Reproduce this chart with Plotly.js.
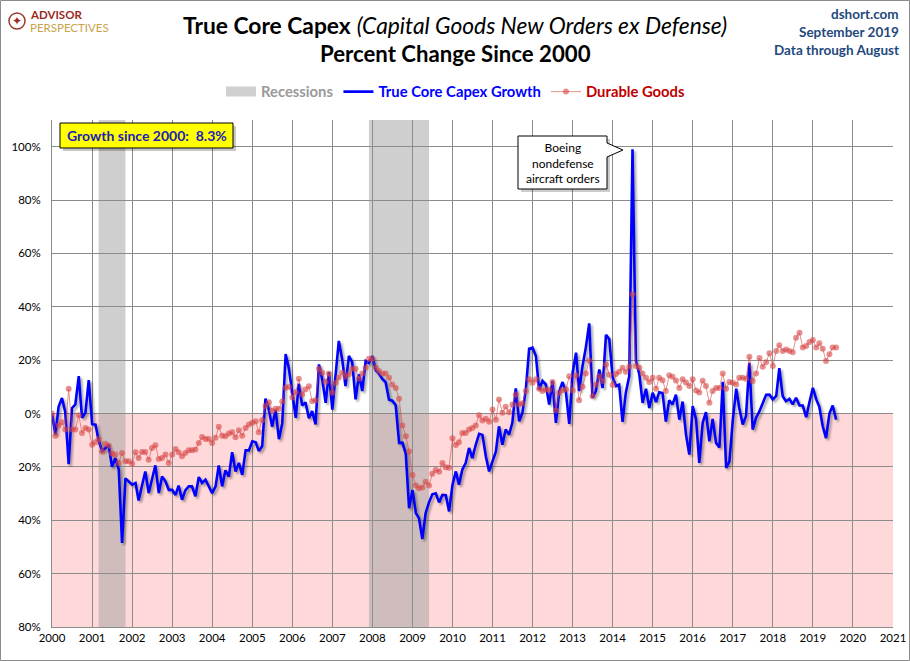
<!DOCTYPE html>
<html><head><meta charset="utf-8">
<script src="https://cdn.plot.ly/plotly-3.0.1.min.js"></script>
<style>html,body{margin:0;padding:0;background:#fff}#chart{width:910px;height:661px}</style>
</head><body><div id="chart"></div>
<script>
const startYear = 2000;
const capexGrowth = [
 0,-8,2.5,5.8,0.5,-19,2,3.4,14,-1.6,0.3,12.5,
 -4,-4.2,-10,-14,-13,-11.8,-20,-16.7,-21,-48.5,-24.3,-25.4,
 -26.7,-26,-32.6,-27,-21.7,-29.8,-24.8,-19.4,-29.8,-23.6,-25.4,-28.6,
 -28.6,-30.5,-27,-32.3,-28.8,-27.3,-27.3,-31,-23.8,-26,-24.8,-27.3,
 -29.8,-27.3,-19.5,-27.3,-21.3,-23.6,-14.5,-21.7,-18.5,-23,-13.8,-13.8,
 -10.4,-10.8,-14,-12.3,5.6,1.5,-5,1.4,-9.6,-3.8,22.3,16.8,
 8,-1.6,11.2,3,4.2,-1.8,0.9,-4.1,18.4,12.8,4,15.5,
 1.5,14.5,27.2,20.3,10.3,21.6,19.3,5.3,14.7,8.4,19.7,19,
 21.5,16.2,15,13,11.8,5.2,4.8,3.1,-11,-10.9,-15.1,-35.5,
 -28.7,-37.3,-39.2,-47,-37.3,-33.3,-30.3,-29.9,-33.3,-30.5,-30.6,-36.7,
 -26.7,-21.7,-26.7,-21,-18.6,-12.9,-16.7,-11.7,-7.6,-8,-16,-21.7,
 -17.9,-14.2,-4.8,-11.7,-6,-7.9,-3.5,9.4,-2.9,0.3,9,24.3,
 24.7,21.5,9,12.2,10.9,3.4,12.2,-3.5,8.4,11.8,7.8,-3.9,
 15.3,22.8,8.4,17.8,24.7,33.8,5.9,8.4,16.5,9.6,29.5,27.8,
 13.5,10.3,10.8,-3.1,7.8,14,99,19.7,14.7,4,9.3,2.1,
 7.8,4.3,8,7.7,-3,5,3.4,7.1,-2.3,4.5,-7.9,-15.4,
 2.8,-2.3,-18.5,-3.5,0.5,-10.4,-2,-11,-12.7,11.9,-20.4,-17.9,
 -2.3,9.3,2.1,-4.1,-1,19,-6,-1.6,0.9,4,7,7.1,
 5.3,6.6,17,6.5,4.6,5.5,3.4,5.9,3,3,-1.4,4.3,
 9.6,5.3,2.5,-4.8,-9.2,0,3,-2.3
];
const durableGoods = [
 0,-8.3,-4.5,-3.3,-6,9.3,-6,-6,-0.6,-7.3,-5.4,-6,
 -11.7,-10.8,-9.5,-14.2,-11.3,-12,-15,-15.4,-18.5,-14.8,-17.9,-17.9,
 -18.8,-14.5,-16.7,-14.4,-14.4,-17.3,-12.9,-11.9,-17,-16.7,-15.4,-18.5,
 -15.4,-13.3,-14.5,-16,-14.8,-13.8,-13.8,-13.5,-11,-8.8,-9.5,-9.5,
 -11,-9.1,-5,-8.3,-8.5,-7.5,-7,-8.9,-6.3,-8.3,-5.4,-4.1,
 -3.5,-2.9,-7,-2.5,2.8,4.2,1,1.8,1.8,4.5,9.7,10,
 6,8,13,7.1,9,10.2,4.6,5,16.8,15.3,11.8,15,
 7.8,11.5,13.5,15.3,13.8,14.7,16.8,16.8,13,15,17.2,20.5,
 20.5,17.2,15.9,15,15,13.4,10.9,9.6,5.5,-4.5,-8.5,-14.2,
 -23,-27,-28,-27.7,-25.6,-27,-22.6,-21.2,-21.8,-18.5,-20.1,-20.3,
 -9.3,-11.8,-10.8,-7.3,-7.3,-6,-5.4,-4.5,-0.6,-2.6,-2,-3.1,
 1.5,-2.3,5.3,0.3,2.5,0.5,3.4,7.1,3.4,3.8,8.4,12.8,
 11.5,12.8,9.3,8.4,9,8.8,11.8,1.1,7.8,8.8,9,14,
 8.6,14.3,5,10,15,19.9,6.5,10.9,14,12.2,18.4,14.5,
 10.7,14.8,15.7,17.2,15.7,17.5,44.7,17.8,17.2,15,13.4,11.8,
 13.4,9.3,13.4,12.5,8.4,14.3,13.8,12.4,9.6,12.8,11.6,10.3,
 12.8,8.6,7.9,12.3,10.3,4,8.4,9.6,9.6,15,9.3,11.8,
 11.5,10.9,13.4,13.4,13,21.3,12.2,15,20.8,17.5,19.2,22.6,
 17.8,23.4,25.6,23.4,24,23.4,23,28.4,30.3,24.7,25.3,26.8,
 27.6,24.7,26.3,24.3,19.7,22.2,24.7,24.7
];
const recessions = [["2001-03-01","2001-11-01"],["2007-12-01","2009-06-01"]];
const yTickVals = [-80,-60,-40,-20,0,20,40,60,80,100];
const yTickText = ["80%","60%","40%","20%","0%","20%","40%","60%","80%","100%"];
const growthLabel = "Growth since 2000:  8.3%";

const months = capexGrowth.map((_, i) => {
  const y = startYear + Math.floor(i / 12), m = (i % 12) + 1;
  return y + "-" + String(m).padStart(2, "0") + "-01";
});

const FONT = "Lato, 'Open Sans', sans-serif";
const L = 52, T = 120, W = 841, H = 507;
const px = x => (x - L) / W, py = y => (T + H - y) / H;

const shapes = [
  {type:"rect", xref:"paper", yref:"y", x0:0, x1:1, y0:-80, y1:0, fillcolor:"#ffd9d9", line:{width:0}, layer:"below"},
  ...recessions.map(r => ({type:"rect", xref:"x", yref:"paper", x0:r[0], x1:r[1], y0:0, y1:1,
     fillcolor:"rgba(160,160,160,0.5)", line:{width:0}, layer:"below"})),
  {type:"rect", xref:"paper", yref:"paper", x0:px(0.5), x1:px(909.5), y0:py(660.5), y1:py(0.5),
     line:{color:"#8c8c8c", width:1}, fillcolor:"rgba(0,0,0,0)", layer:"above"},
  {type:"path", xref:"paper", yref:"paper", layer:"above", fillcolor:"rgba(0,0,0,0.2)", line:{width:0},
   path:`M ${px(521)},${py(139)} L ${px(610)},${py(139)} L ${px(610)},${py(192)} L ${px(521)},${py(192)} Z`},
  {type:"path", xref:"paper", yref:"paper", layer:"above", fillcolor:"#ffffff", line:{color:"#000", width:1},
   path:`M ${px(518)},${py(136)} L ${px(607)},${py(136)} L ${px(607)},${py(143)} L ${px(623)},${py(150)} L ${px(607)},${py(157)} L ${px(607)},${py(189)} L ${px(518)},${py(189)} Z`},
  {type:"rect", xref:"paper", yref:"paper", x0:px(63), x1:px(236), y0:py(151), y1:py(126), fillcolor:"rgba(0,0,0,0.22)", line:{width:0}, layer:"above"},
  {type:"rect", xref:"paper", yref:"paper", x0:px(60), x1:px(233), y0:py(148), y1:py(123), fillcolor:"#ffff00", line:{color:"#000", width:1}, layer:"above"},
  {type:"circle", xref:"paper", yref:"paper", x0:px(9), x1:px(25), y0:py(29), y1:py(13), line:{color:"#9b3b2b", width:1.5}, fillcolor:"rgba(0,0,0,0)", layer:"above"}
];

const ann = (x, y, text, size, color, xanchor, extra) => Object.assign({xref:"paper", yref:"paper", x:px(x), y:py(y),
  xanchor:xanchor || "center", yanchor:"middle", showarrow:false, text:text, font:{family:FONT, size:size, color:color}}, extra || {});

const annotations = [
  ann(147, 135.5, "<b>"+growthLabel+"</b>", 14, "#1c1cb8"),
  ann(562.5, 162.5, "Boeing<br>nondefense<br>aircraft orders", 12, "#000", "center", {align:"center"}),
  ann(901, 14, "<b>dshort.com</b>", 13.5, "#1f497d", "right"),
  ann(901, 32, "<b>September 2019</b>", 13.5, "#1f497d", "right"),
  ann(901, 50, "<b>Data through August</b>", 13.5, "#1f497d", "right"),
  ann(455, 25, "<b>True Core Capex</b> <i>(Capital Goods New Orders ex Defense)</i>", 22.8, "#000"),
  ann(455, 53, "<b>Percent Change Since 2000</b>", 22.2, "#000"),
  ann(28, 14, "<b>ADVISOR</b>", 11.5, "#9b2a1f", "left"),
  ann(28, 28, "PERSPECTIVES", 11.5, "#c9a34a", "left"),
  ann(17, 21, "✦", 12, "#9b2a1f", "center", {font:{family:"DejaVu Sans", size:12, color:"#9b2a1f"}})
];

const data = [
  {type:"scatter", x:[null], y:[null], mode:"lines", name:'<span style="color:#9a9a9a"><b>Recessions</b></span>',
   line:{color:"#d0d0d0", width:12}, legendrank:1, hoverinfo:"skip"},
  {type:"scatter", x:months, y:capexGrowth, mode:"lines", name:'<span style="color:#0000ff"><b>True Core Capex Growth</b></span>',
   line:{color:"#0000ff", width:2.6}, legendrank:2},
  {type:"scatter", x:months, y:durableGoods, mode:"lines+markers", name:'<span style="color:#c00000"><b>Durable Goods</b></span>',
   line:{color:"rgba(215,70,70,0.6)", width:1}, marker:{size:6, color:"rgba(215,70,70,0.6)"}, legendrank:3}
];

const layout = {
  width:910, height:661,
  margin:{l:L, r:910-L-W, t:T, b:661-T-H, pad:0},
  paper_bgcolor:"#ffffff", plot_bgcolor:"#ffffff",
  font:{family:FONT, size:11, color:"#000"},
  showlegend:true,
  legend:{orientation:"h", x:px(456), xanchor:"center", y:py(92), yanchor:"middle", bgcolor:"rgba(0,0,0,0)",
    font:{family:FONT, size:14.8}, traceorder:"normal", itemwidth:30},
  xaxis:{type:"date", range:["2000-01-01","2021-01-01"], dtick:"M12", tick0:"2000-01-01", tickformat:"%Y",
    showgrid:true, gridcolor:"#8c8c8c", gridwidth:1, ticks:"", showline:true, linecolor:"#8c8c8c",
    tickfont:{family:FONT, size:11.5, color:"#000"}, zeroline:false, fixedrange:true},
  yaxis:{range:[-80,110], tickvals:yTickVals, ticktext:yTickText, showgrid:true, gridcolor:"#8c8c8c", gridwidth:1,
    zeroline:false, ticks:"", showline:true, linecolor:"#8c8c8c", ticklabelstandoff:8,
    tickfont:{family:FONT, size:11.5, color:"#000"}, fixedrange:true},
  shapes:shapes, annotations:annotations
};

Plotly.newPlot("chart", data, layout, {displayModeBar:false, staticPlot:true}).then(() => {
  document.querySelectorAll(".scatterlayer .js-line").forEach(p => {
    if ((p.style.stroke || "").indexOf("0, 0, 255") >= 0) p.style.filter = "drop-shadow(2px 2px 1.2px rgba(0,0,0,0.35))";
  });
});
</script></body></html>
